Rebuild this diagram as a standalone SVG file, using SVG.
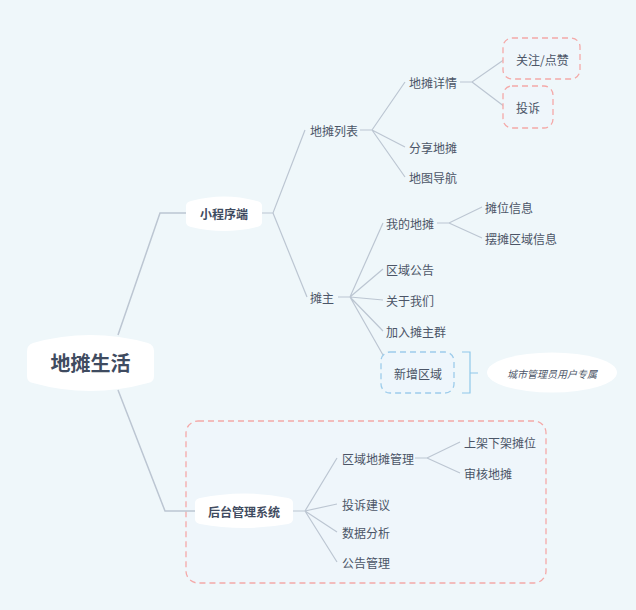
<svg xmlns="http://www.w3.org/2000/svg" width="636" height="610" viewBox="0 0 636 610">
<style>
.bg{fill:#EFF7FA}
.t{font-family:"Noto Sans CJK SC","Noto Sans",sans-serif;font-size:12px;fill:#4B5567;dominant-baseline:central}
.b{font-weight:bold;fill:#3F4B60}
.ln{fill:none;stroke:#BCC6D2;stroke-width:1.2}
.lr{fill:none;stroke:#BCC6D2;stroke-width:1.5}
.pill{fill:#FFFFFF}
.pink{fill:#EFF6FB;stroke:#F4A9A8;stroke-width:1.3;stroke-dasharray:6 4}
.blue{fill:#EEF6FC;stroke:#9DCCEB;stroke-width:1.3;stroke-dasharray:6 4}
</style>
<rect class="bg" x="0" y="0" width="636" height="610"/>
<g id="group-backend-boundary"><rect class="pink" x="186" y="421" width="360" height="162" rx="12"/></g>
<g id="connectors">
<path class="lr" d="M118,335 L160,213 L187,213"/>
<path class="lr" d="M118,390 L165,511 L195,511"/>
<path class="ln" d="M262,213 L273,213 L305,130"/>
<path class="ln" d="M273,213 L307,297"/>
<path class="ln" d="M360,130 L372,130 L405,82 M372,130 L405,147 M372,130 L405,177"/>
<path class="ln" d="M460,82 L472,82 L505,59 M472,82 L505,107"/>
<path class="ln" d="M338,297 L350,297 L383,223 M350,297 L383,269 M350,297 L383,300 M350,297 L383,331 M350,297 L383,355"/>
<path class="ln" d="M437,223 L449,223 L482,207 M449,223 L482,238"/>
<path class="ln" d="M293,511 L305,511 L337,458 M305,511 L337,504 M305,511 L337,532 M305,511 L337,562"/>
<path class="ln" d="M415,458 L427,458 L460,442 M427,458 L460,473"/>
<path fill="none" stroke="#8FC8EA" stroke-width="1.2" d="M462,352 L470,352 L470,393 L462,393 M470,373 L478,373"/>
</g>
<g id="root"><path class="pill" d="M33,343 Q90,327 148,343 Q154,345 154,351 L154,376 Q154,382 148,383 Q90,399 33,383 Q27,382 27,376 L27,351 Q27,345 33,343 Z"/><text class="t b" x="90.5" y="362" font-size="20" text-anchor="middle" style="font-size:20px">地摊生活</text></g>
<g id="miniprogram"><path class="pill" d="M191,201 Q224,192 257,201 Q262,202 262,206 L262,222 Q262,226 257,227 Q224,235 191,227 Q186,226 186,222 L186,206 Q186,202 191,201 Z"/><text class="t b" x="224" y="213" text-anchor="middle">小程序端</text></g>
<g id="backend"><path class="pill" d="M200,498 Q244,489 288,498 Q293,499 293,503 L293,519 Q293,523 288,524 Q244,532 200,524 Q195,523 195,519 L195,503 Q195,499 200,498 Z"/><text class="t b" x="244" y="511" text-anchor="middle">后台管理系统</text></g>
<g id="stall-list"><text class="t" x="310" y="130">地摊列表</text></g>
<g id="stall-detail"><text class="t" x="409" y="82">地摊详情</text></g>
<g id="follow-like"><rect class="pink" x="503" y="38" width="77" height="41" rx="9"/><text class="t" x="516" y="59">关注/点赞</text></g>
<g id="complain"><rect class="pink" x="503" y="86" width="50" height="42" rx="9"/><text class="t" x="516" y="107">投诉</text></g>
<g id="share-stall"><text class="t" x="409" y="147">分享地摊</text></g>
<g id="map-nav"><text class="t" x="409" y="177">地图导航</text></g>
<g id="owner"><text class="t" x="310" y="297">摊主</text></g>
<g id="my-stall"><text class="t" x="386" y="223">我的地摊</text></g>
<g id="stall-info"><text class="t" x="485" y="207">摊位信息</text></g>
<g id="area-info"><text class="t" x="485" y="238">摆摊区域信息</text></g>
<g id="area-notice"><text class="t" x="386" y="269">区域公告</text></g>
<g id="about-us"><text class="t" x="386" y="300">关于我们</text></g>
<g id="join-group"><text class="t" x="386" y="331">加入摊主群</text></g>
<g id="add-area"><rect class="blue" x="381" y="352" width="73" height="41" rx="9"/><text class="t" x="394" y="373">新增区域</text></g>
<g id="admin-note"><ellipse cx="552" cy="372.5" rx="65" ry="20" fill="#FFFFFF"/><text class="t" x="552" y="373" text-anchor="middle" font-style="italic" style="font-size:10px">城市管理员用户专属</text></g>
<g id="area-stall-mgmt"><text class="t" x="342" y="458">区域地摊管理</text></g>
<g id="shelf"><text class="t" x="464" y="442">上架下架摊位</text></g>
<g id="review"><text class="t" x="464" y="473">审核地摊</text></g>
<g id="complaint-suggest"><text class="t" x="342" y="504">投诉建议</text></g>
<g id="data-analysis"><text class="t" x="342" y="532">数据分析</text></g>
<g id="notice-mgmt"><text class="t" x="342" y="562">公告管理</text></g>
</svg>
